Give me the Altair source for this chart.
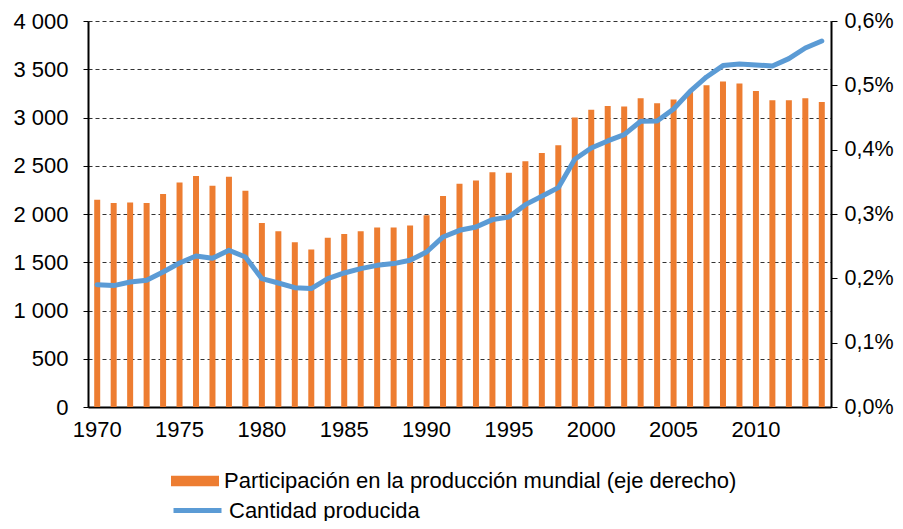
import altair as alt
import pandas as pd

years = list(range(1970, 2015))
cantidad = [1268, 1258, 1295, 1313, 1399, 1492, 1565, 1541, 1624, 1554,
            1330, 1285, 1237, 1227, 1330, 1389, 1434, 1468, 1486, 1520,
            1606, 1762, 1831, 1865, 1942, 1969, 2097, 2183, 2273, 2567,
            2684, 2757, 2823, 2961, 2964, 3088, 3271, 3420, 3538, 3554,
            3544, 3534, 3610, 3720, 3793]
participacion = [0.322, 0.317, 0.318, 0.317, 0.331, 0.349, 0.359, 0.344, 0.358, 0.336,
                 0.286, 0.273, 0.256, 0.245, 0.263, 0.269, 0.273, 0.279, 0.279, 0.282,
                 0.298, 0.328, 0.347, 0.352, 0.365, 0.364, 0.382, 0.395, 0.407, 0.450,
                 0.462, 0.468, 0.467, 0.480, 0.472, 0.478, 0.491, 0.500, 0.506, 0.503,
                 0.491, 0.477, 0.477, 0.480, 0.474]
tick_years = [1970, 1975, 1980, 1985, 1990, 1995, 2000, 2005, 2010]
left_ticks = [0, 500, 1000, 1500, 2000, 2500, 3000, 3500, 4000]
right_ticks = [0.0, 0.1, 0.2, 0.3, 0.4, 0.5, 0.6]
bar_label = "Participación en la producción mundial (eje derecho)"
line_label = "Cantidad producida"

df = pd.DataFrame({"year": years, "cantidad": cantidad, "part": participacion,
                   "sb": bar_label, "sl": line_label})

FONT = "Liberation Sans"
FS = 22

x_enc = alt.X(
    "year:O",
    scale=alt.Scale(paddingInner=0.636, paddingOuter=0.377),
    axis=alt.Axis(values=tick_years, labelAngle=0, ticks=False, title=None,
                  domainColor="black", domainWidth=2, labelFontSize=FS,
                  labelPadding=12, labelColor="black", labelFont=FONT, grid=False),
)

bars = alt.Chart(df).mark_bar().encode(
    x=x_enc,
    y=alt.Y("part:Q", scale=alt.Scale(domain=[0, 0.6], nice=False),
            axis=alt.Axis(orient="right", values=right_ticks, title=None, grid=False,
                          labelExpr="replace(format(datum.value, '.1f'), '.', ',') + '%'",
                          domainColor="black", domainWidth=2, tickColor="black",
                          tickSize=6, labelPadding=7, labelFontSize=21.5,
                          labelFont=FONT, labelColor="black")),
    fill=alt.Fill("sb:N", scale=alt.Scale(range=["#ED7D31"]),
                  legend=alt.Legend(orient="none", legendX=83, legendY=436, title=None,
                                    symbolType="M-1,-0.22H1V0.22H-1Z", symbolSize=2304,
                                    symbolStrokeWidth=0, labelFontSize=FS, labelFont=FONT,
                                    labelColor="black", labelOffset=5, padding=0,
                                    labelLimit=800)),
)

line = alt.Chart(df).mark_line(strokeWidth=5, strokeCap="round", strokeJoin="round").encode(
    x=x_enc,
    y=alt.Y("cantidad:Q", scale=alt.Scale(domain=[0, 4000], nice=False),
            axis=alt.Axis(orient="left", values=left_ticks, title=None, grid=True,
                          gridDash=[4, 3], gridColor="#333333", gridWidth=1,
                          labelExpr="replace(format(datum.value, ',d'), ',', ' ')",
                          domainColor="black", domainWidth=2, tickColor="black",
                          tickSize=5, labelPadding=15, labelFontSize=FS,
                          labelFont=FONT, labelColor="black")),
    stroke=alt.Stroke("sl:N", scale=alt.Scale(range=["#5B9BD5"]),
                      legend=alt.Legend(orient="none", legendX=83, legendY=463, title=None,
                                        symbolType="stroke", symbolSize=2304,
                                        symbolStrokeWidth=5, labelFontSize=FS, labelFont=FONT,
                                        labelColor="black", labelOffset=5, padding=0,
                                        labelLimit=800)),
)

chart = (
    alt.layer(bars, line)
    .resolve_scale(y="independent")
    .properties(width=743, height=386,
                autosize=alt.AutoSizeParams(type="none"),
                padding={"left": 80, "top": 13, "right": 64, "bottom": 114})
    .configure_view(stroke=None)
)

chart.save("out.html", embed_options={"renderer": "svg", "actions": False})
